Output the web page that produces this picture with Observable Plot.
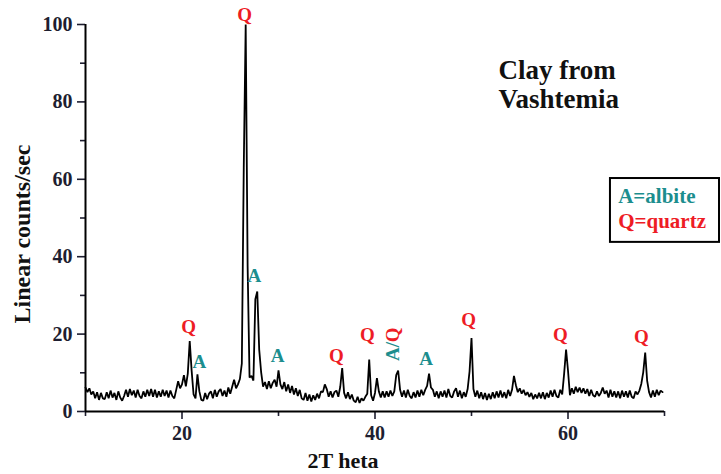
<!DOCTYPE html>
<html><head><meta charset="utf-8">
<script src="https://cdn.jsdelivr.net/npm/d3@7"></script>
<script src="https://cdn.jsdelivr.net/npm/@observablehq/plot@0.6"></script>
<style>html,body{margin:0;padding:0;background:#fff;}</style>
</head><body><div id="chart"></div>
<script>
// XRD pattern: counts read every 0.2 deg 2-theta, from 10.0 to 69.8
const startAngle = 10, stepAngle = 0.2;
const counts = [
  6.2, 5.0, 6.0, 4.4, 5.2,   3.4, 5.0, 3.0, 4.8, 3.4,
  3.2, 5.0, 3.4, 5.4, 3.6,   4.8, 3.0, 5.2, 3.6, 2.8,
  4.0, 5.6, 3.8, 5.8, 4.2,   5.4, 3.6, 5.6, 4.0, 3.4,
  5.2, 3.8, 5.6, 4.0, 5.8,   3.8, 5.6, 3.6, 5.2, 3.8,
  5.6, 4.0, 5.4, 3.6, 5.4,   4.0, 3.4, 5.6, 7.8, 6.0,
  7.0, 9.4, 6.5, 9.8, 18.2,  10.5, 4.4, 3.4, 9.6, 5.2,
  3.0, 2.8, 4.8, 3.2, 4.6,   5.2, 3.4, 5.6, 3.8, 5.2,
  5.8, 4.0, 5.4, 3.8, 6.2,   4.6, 6.4, 8.2, 6.0, 7.0,
  8.4, 12.4, 63.0, 100, 37.5, 8.8, 9.2, 8.0, 29.0, 31.0,
  16.0, 10.2, 6.4, 7.6, 5.8, 7.8, 6.0, 7.4, 8.2, 6.4,
  10.6, 7.0, 5.8, 7.6, 5.2,  7.0, 4.8, 6.6, 4.4, 6.0,
  4.0, 5.6, 3.4, 3.0, 4.8,   2.8, 4.4, 2.6, 4.2, 3.0,
  4.6, 3.4, 5.2, 5.0, 7.0,   5.8, 3.8, 5.2, 3.6, 5.0,
  5.4, 3.8, 6.4, 11.2, 4.8,  3.4, 5.0, 3.2, 4.4, 2.8,
  2.4, 3.8, 2.2, 3.4, 2.8,   3.8, 4.6, 13.4, 4.2, 2.8,
  4.8, 8.6, 5.2, 3.6, 5.2,   3.6, 5.2, 3.8, 5.4, 4.0,
  5.2, 9.4, 10.6, 5.6, 3.8,  5.4, 3.6, 5.6, 4.0, 3.4,
  5.0, 3.6, 5.4, 3.8, 5.6,   4.2, 5.6, 6.6, 9.8, 6.2,
  5.6, 3.8, 5.2, 3.4, 5.2,   3.8, 5.4, 3.6, 5.8, 4.0,
  3.6, 5.2, 6.0, 3.8, 5.4,   3.4, 5.0, 3.8, 5.8, 10.4,
  19.0, 5.8, 3.8, 5.4, 3.4,  5.0, 3.2, 4.8, 3.0, 4.6,
  3.2, 5.0, 3.4, 5.2, 3.6,   5.4, 3.6, 5.0, 3.4, 5.6,
  4.0, 5.6, 9.2, 6.8, 5.0,   6.0, 4.6, 5.6, 4.2, 5.0,
  3.8, 4.8, 3.2, 4.4, 3.4,   4.8, 3.4, 5.0, 3.2, 4.8,
  3.6, 5.4, 3.8, 5.6, 4.0,   3.6, 5.6, 4.4, 9.8, 16.0,
  10.6, 4.2, 6.0, 4.6, 6.4,  5.0, 6.2, 4.8, 6.0, 4.6,
  5.8, 4.0, 5.6, 4.2, 3.8,   5.2, 4.0, 4.8, 6.2, 4.6,
  5.4, 3.6, 5.6, 3.8, 5.2,   3.6, 5.2, 3.4, 5.4, 3.8,
  5.2, 3.6, 5.4, 3.8, 3.4,   5.2, 4.4, 5.4, 7.2, 10.2,
  15.2, 8.0, 5.0, 3.6, 5.4,  3.8, 5.6, 4.2, 5.4, 5.0
];
const twoTheta = counts.map((_, i) => +(startAngle + i * stepAngle).toFixed(1));

const yMajorTicks = [0, 20, 40, 60, 80, 100];
const yMinorTicks = [10, 30, 50, 70, 90];
const xMajorTicks = [20, 40, 60];
const xMinorTicks = [10, 30, 50, 70];

// peak annotations
const peakText  = ["Q", "Q", "A", "A", "A", "Q", "Q", "A/", "Q", "A", "Q", "Q", "Q"];
const peakAngle = [26.5, 20.7, 21.8, 27.5, 29.9, 36.0, 39.2, 41.9, 41.9, 45.3, 49.7, 59.2, 67.6];
const peakCount = [102.6, 21.8, 12.9, 35.1, 14.3, 14.3, 19.8, 15.5, 19.8, 13.5, 23.6, 19.8, 19.2];
const peakPhase = ["Q", "Q", "A", "A", "A", "Q", "Q", "A", "Q", "A", "Q", "Q", "Q"];
const peakRotate = [0, 0, 0, 0, 0, 0, 0, -90, -90, 0, 0, 0, 0];

const titleLines = ["Clay from", "Vashtemia"];
const legendLines = ["A=albite", "Q=quartz"];
const legendPhase = ["A", "Q"];
const phaseColor = {A: "#1c8e8e", Q: "#ee1c25"};

const peaks = peakText.map((t, i) => ({t, x: peakAngle[i], y: peakCount[i], c: phaseColor[peakPhase[i]], r: peakRotate[i]}));

const chart = Plot.plot({
  width: 721, height: 474,
  marginLeft: 85, marginRight: 57, marginTop: 24, marginBottom: 63,
  x: {domain: [10, 70]},
  y: {domain: [0, 100]},
  style: {fontFamily: "Liberation Serif", fontWeight: "bold", fontSize: "20px", color: "#1e1e30", background: "white", overflow: "visible"},
  marks: [
    Plot.axisY({ticks: yMajorTicks, tickSize: 8, tickPadding: 5, strokeWidth: 1.6, fontSize: 20, label: null}),
    Plot.axisY({ticks: yMinorTicks, tickSize: 5, strokeWidth: 1.6, tickFormat: () => "", label: null}),
    Plot.axisX({ticks: xMajorTicks, tickSize: 8, tickPadding: 6, strokeWidth: 1.6, fontSize: 20, label: null}),
    Plot.axisX({ticks: xMinorTicks, tickSize: 5, strokeWidth: 1.6, tickFormat: () => "", label: null}),
    Plot.ruleX([10], {y1: 0, y2: 100, stroke: "black", strokeWidth: 2}),
    Plot.ruleY([0], {x1: 10, x2: 70, stroke: "black", strokeWidth: 2}),
    Plot.line(counts, {x: (d, i) => twoTheta[i], y: d => d, stroke: "black", strokeWidth: 1.8, strokeLinejoin: "miter"}),
    Plot.text(peaks, {x: "x", y: "y", text: "t", fill: "c", rotate: "r", fontSize: 19, fontWeight: "bold"}),
    Plot.text(["Linear counts/sec"], {frameAnchor: "left", textAnchor: "middle", lineAnchor: "middle", dx: -63, dy: 16, rotate: -90, fontSize: 24, letterSpacing: "1px", fill: "#111"}),
    Plot.text(["2T heta"], {frameAnchor: "bottom", textAnchor: "middle", lineAnchor: "middle", dx: -32, dy: 49, fontSize: 22, fill: "#111", letterSpacing: "2px"}),
    Plot.text(titleLines, {x: 52.8, y: (d, i) => [88.1, 80.6][i], textAnchor: "start", fontSize: 27, letterSpacing: "0.3px", fill: "#111"}),
    Plot.rect([0], {x1: 64.4, x2: 75.7, y1: 43.7, y2: 60.2, fill: "none", stroke: "black", strokeWidth: 2}),
    Plot.text(legendLines, {x: 65.2, y: (d, i) => [55.6, 49.1][i], textAnchor: "start", fontSize: 21, letterSpacing: "0.5px", fill: (d, i) => phaseColor[legendPhase[i]]})
  ]
});
document.getElementById("chart").appendChild(chart);
</script>
</body></html>
